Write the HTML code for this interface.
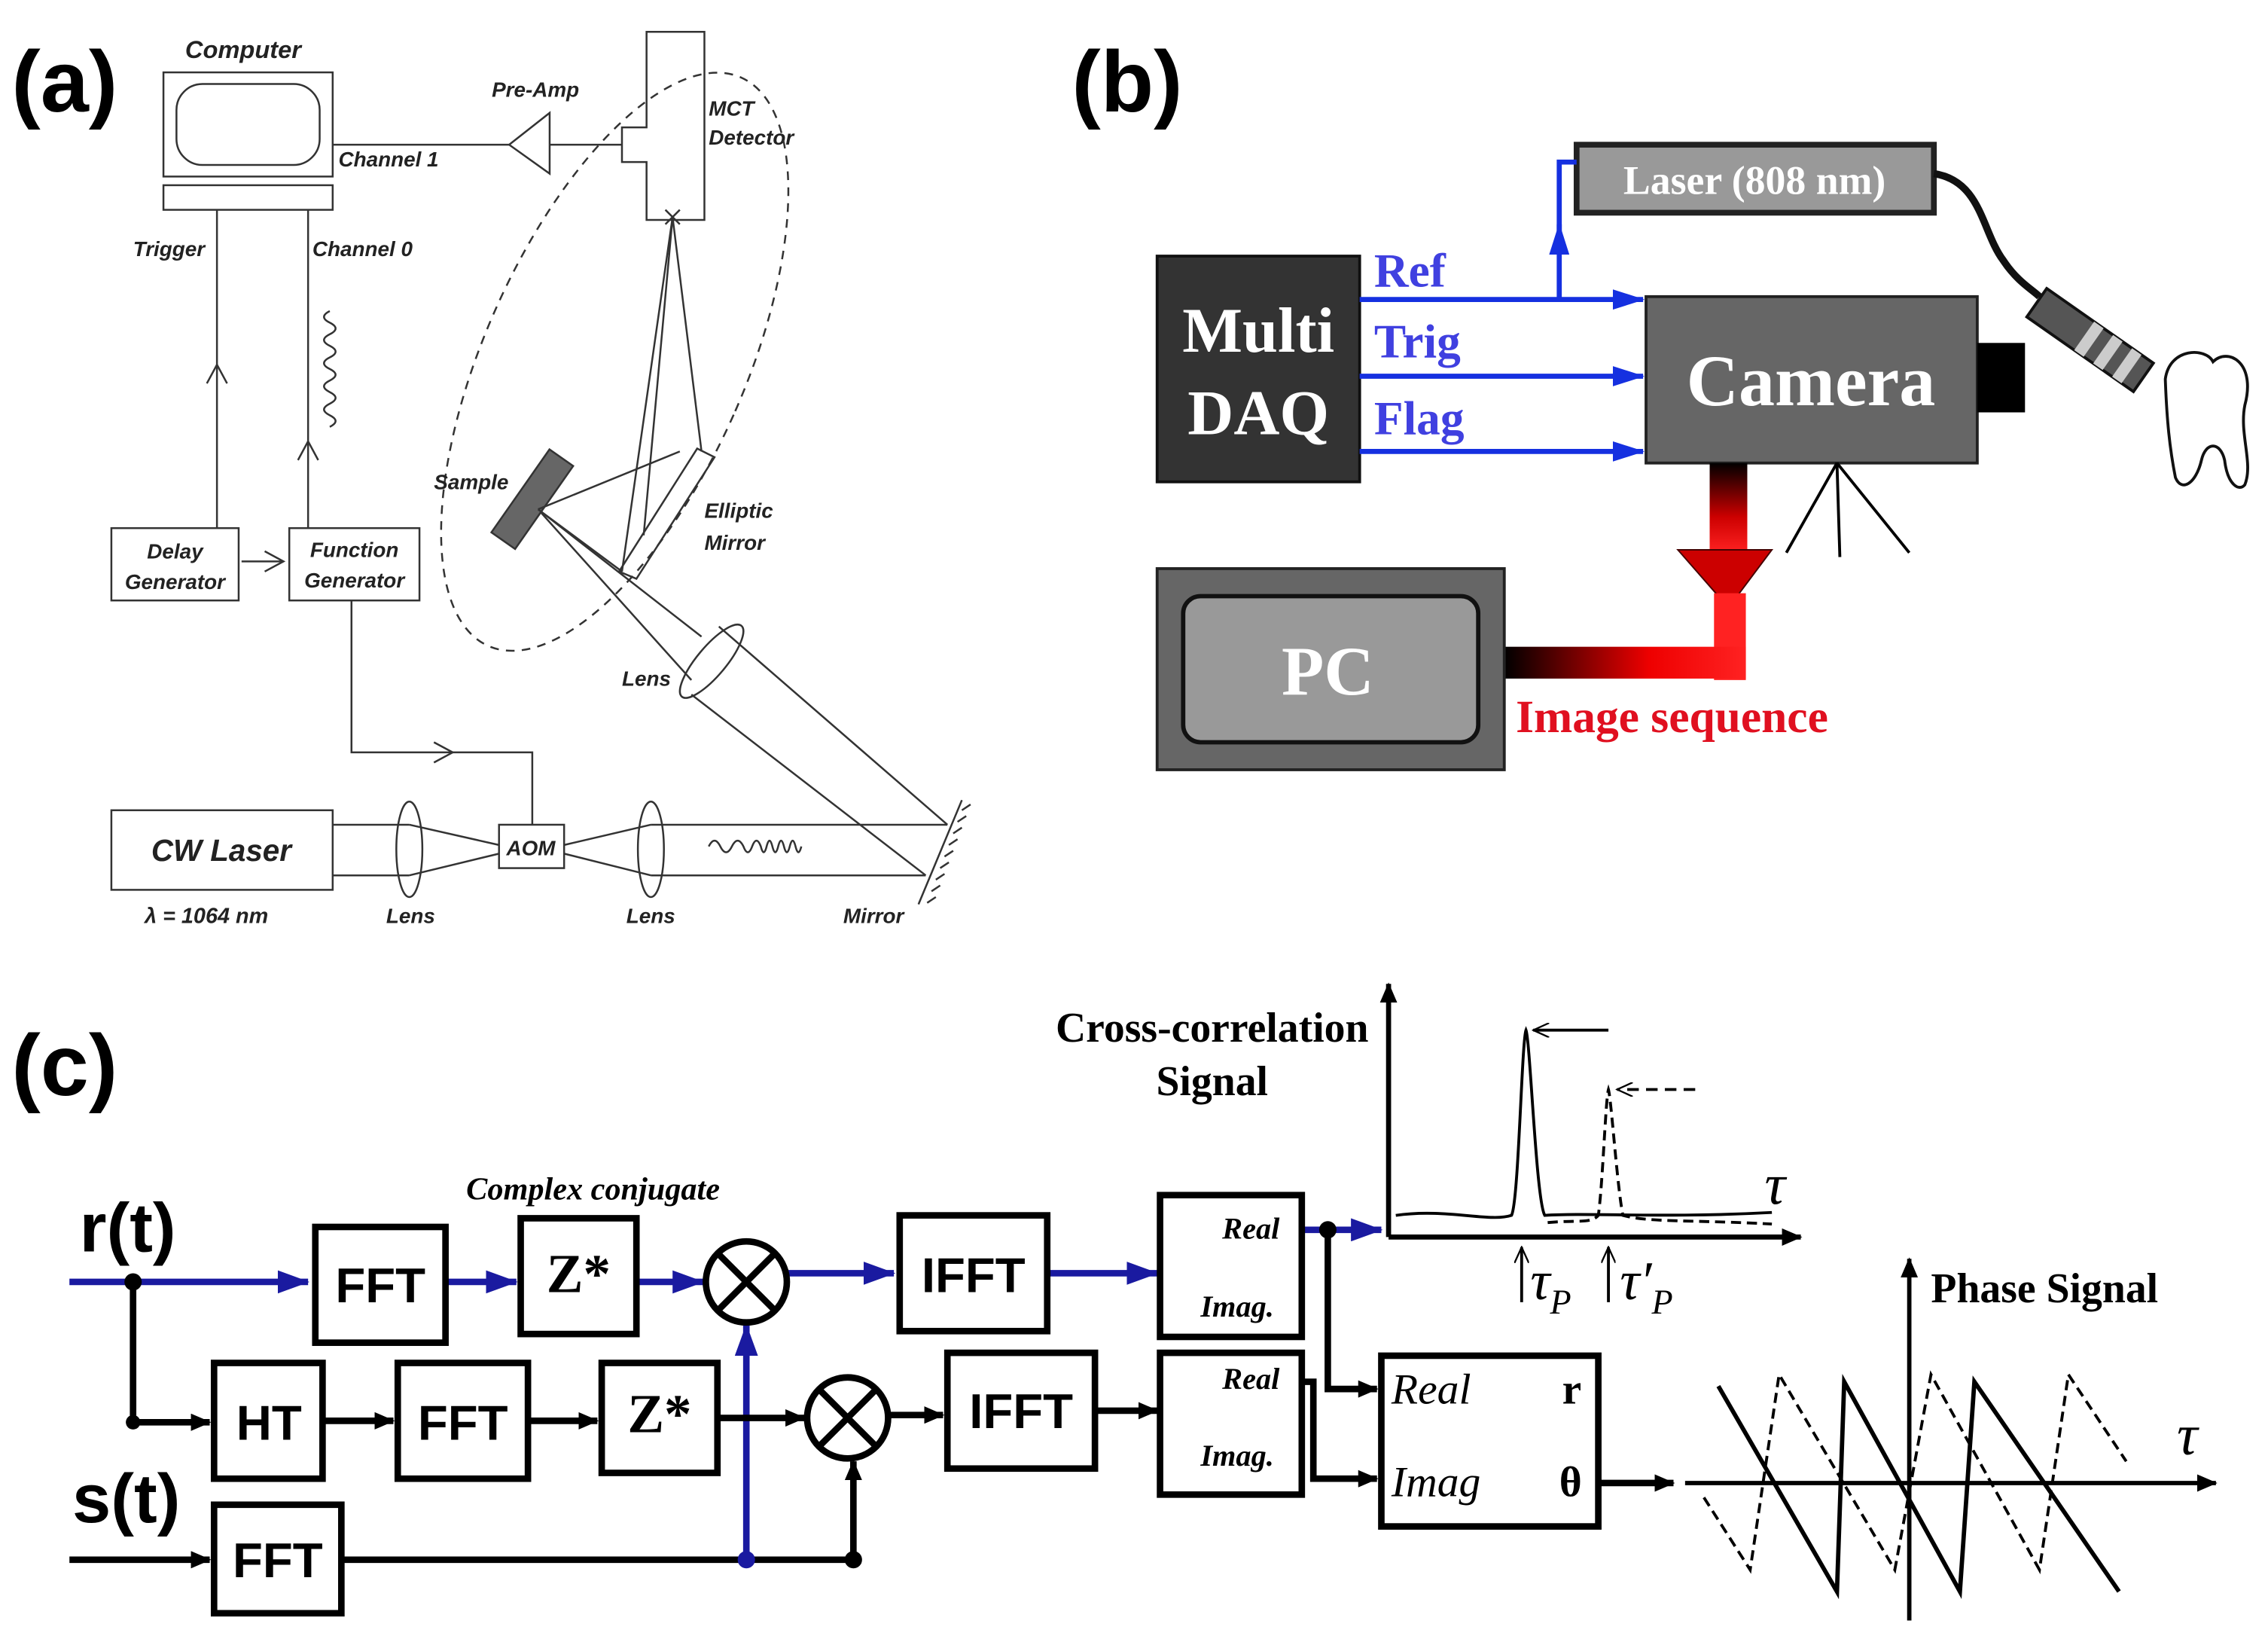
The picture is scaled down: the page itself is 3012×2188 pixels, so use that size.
<!DOCTYPE html>
<html><head><meta charset="utf-8">
<style>
html,body{margin:0;padding:0;background:#fff;}
svg{display:block;}
.s{font-family:"Liberation Sans",sans-serif;}
.r{font-family:"Liberation Serif",serif;}
</style></head>
<body>
<svg width="3012" height="2188" viewBox="0 0 1568 1139" xmlns="http://www.w3.org/2000/svg">
<defs>
<marker id="ak" markerWidth="14" markerHeight="12" refX="13" refY="6" orient="auto" markerUnits="userSpaceOnUse"><path d="M0,0 L14,6 L0,12 z" fill="#000"/></marker>
<marker id="abl" markerWidth="22" markerHeight="16" refX="21" refY="8" orient="auto" markerUnits="userSpaceOnUse"><path d="M0,0 L22,8 L0,16 z" fill="#1a1aa0"/></marker>
<marker id="bb" markerWidth="22" markerHeight="14" refX="21" refY="7" orient="auto" markerUnits="userSpaceOnUse"><path d="M0,0 L22,7 L0,14 z" fill="#1530e0"/></marker>
<marker id="op" markerWidth="12" markerHeight="10" refX="11" refY="5" orient="auto" markerUnits="userSpaceOnUse"><path d="M0,0 L11,5 L0,10" fill="none" stroke="#000" stroke-width="1.2"/></marker>
<linearGradient id="rg" x1="0" y1="0" x2="0" y2="1"><stop offset="0" stop-color="#000"/><stop offset="0.6" stop-color="#c00"/><stop offset="1" stop-color="#f22"/></linearGradient>
<linearGradient id="rh" x1="0" y1="0" x2="1" y2="0"><stop offset="0" stop-color="#000"/><stop offset="0.6" stop-color="#e00"/><stop offset="1" stop-color="#f22"/></linearGradient>
</defs>

<!-- ===== (a) ===== -->
<text x="8" y="77" class="s" font-size="60" font-weight="bold">(a)</text>
<g stroke="#333" fill="none" stroke-width="1.3" class="s">
<text x="128" y="40" font-size="17" font-weight="bold" font-style="italic" fill="#222" stroke="none">Computer</text>
<rect x="113" y="50" width="117" height="72" fill="#fff"/>
<rect x="122" y="58" width="99" height="56" rx="18"/>
<rect x="113" y="128" width="117" height="17"/>
<line x1="230" y1="100" x2="352" y2="100"/>
<text x="234" y="115" font-size="14.5" font-weight="bold" font-style="italic" fill="#222" stroke="none">Channel 1</text>
<path d="M352,100 L380,78 L380,120 Z"/>
<text x="340" y="67" font-size="14.5" font-weight="bold" font-style="italic" fill="#222" stroke="none">Pre-Amp</text>
<line x1="380" y1="100" x2="430" y2="100"/>
<path d="M447,22 H487 V152 H447 V112 H430 V88 H447 Z"/>
<text x="490" y="80" font-size="14.5" font-weight="bold" font-style="italic" fill="#222" stroke="none">MCT</text>
<text x="490" y="100" font-size="14.5" font-weight="bold" font-style="italic" fill="#222" stroke="none">Detector</text>
<ellipse cx="425" cy="250" rx="90" ry="215" transform="rotate(24 425 250)" stroke-dasharray="6,5"/>
<line x1="150" y1="145" x2="150" y2="365"/>
<path d="M143,265 L150,252 L157,265"/>
<line x1="213" y1="145" x2="213" y2="365"/>
<path d="M206,318 L213,305 L220,318"/>
<text x="92" y="177" font-size="14.5" font-weight="bold" font-style="italic" fill="#222" stroke="none">Trigger</text>
<text x="216" y="177" font-size="14.5" font-weight="bold" font-style="italic" fill="#222" stroke="none">Channel 0</text>
<path d="M228,215 q-8,4 0,8 q8,4 0,8 q-8,4 0,8 q8,4 0,8 q-8,4 0,8 q8,4 0,8 q-8,4 0,8 q8,4 0,8 q-8,4 0,8 q8,4 0,8"/>
<rect x="77" y="365" width="88" height="50"/>
<text x="121" y="386" font-size="14.5" font-weight="bold" font-style="italic" fill="#222" stroke="none" text-anchor="middle">Delay</text>
<text x="121" y="407" font-size="14.5" font-weight="bold" font-style="italic" fill="#222" stroke="none" text-anchor="middle">Generator</text>
<line x1="167" y1="388" x2="195" y2="388"/>
<path d="M183,381 L196,388 L183,395"/>
<rect x="200" y="365" width="90" height="50"/>
<text x="245" y="385" font-size="14.5" font-weight="bold" font-style="italic" fill="#222" stroke="none" text-anchor="middle">Function</text>
<text x="245" y="406" font-size="14.5" font-weight="bold" font-style="italic" fill="#222" stroke="none" text-anchor="middle">Generator</text>
<path d="M243,415 V520 H368 V570"/>
<path d="M300,513 L313,520 L300,527"/>
<rect x="77" y="560" width="153" height="55"/>
<text x="153" y="595" font-size="21" font-weight="bold" font-style="italic" fill="#222" stroke="none" text-anchor="middle">CW Laser</text>
<text x="100" y="638" font-size="15" font-weight="bold" font-style="italic" fill="#222" stroke="none">λ = 1064 nm</text>
<line x1="230" y1="570" x2="283" y2="570"/>
<line x1="230" y1="605" x2="283" y2="605"/>
<ellipse cx="283" cy="587" rx="9" ry="33"/>
<line x1="283" y1="570" x2="345" y2="584"/>
<line x1="283" y1="605" x2="345" y2="590"/>
<text x="267" y="638" font-size="14.5" font-weight="bold" font-style="italic" fill="#222" stroke="none">Lens</text>
<rect x="345" y="570" width="45" height="30"/>
<text x="367" y="591" font-size="14.5" font-weight="bold" font-style="italic" fill="#222" stroke="none" text-anchor="middle">AOM</text>
<line x1="390" y1="584" x2="450" y2="570"/>
<line x1="390" y1="590" x2="450" y2="605"/>
<ellipse cx="450" cy="587" rx="9" ry="33"/>
<text x="433" y="638" font-size="14.5" font-weight="bold" font-style="italic" fill="#222" stroke="none">Lens</text>
<line x1="450" y1="570" x2="655" y2="570"/>
<line x1="450" y1="605" x2="640" y2="605"/>
<path d="M490,585 q4,-8 8,0 q4,8 8,0 q4,-8 8,0 q3,8 6,0 q3,-8 6,0 q2,8 4,0 q2,-8 4,0 q2,8 4,0 q2,-8 4,0 q2,8 4,0 q2,-8 4,0 q2,8 4,0"/>
<line x1="665" y1="553" x2="635" y2="625"/>
<path d="M665,560 l6,-4 M662,568 l6,-4 M659,576 l6,-4 M656,584 l6,-4 M653,592 l6,-4 M650,600 l6,-4 M647,608 l6,-4 M644,616 l6,-4 M641,624 l6,-4"/>
<text x="583" y="638" font-size="14.5" font-weight="bold" font-style="italic" fill="#222" stroke="none">Mirror</text>
<line x1="655" y1="570" x2="497" y2="433"/>
<line x1="640" y1="605" x2="478" y2="480"/>
<ellipse cx="492" cy="457" rx="10" ry="32" transform="rotate(40 492 457)"/>
<text x="430" y="474" font-size="14.5" font-weight="bold" font-style="italic" fill="#222" stroke="none">Lens</text>
<line x1="485" y1="440" x2="372" y2="352"/>
<line x1="478" y1="470" x2="372" y2="352"/>
<rect x="358" y="310" width="20" height="70" fill="#666" transform="rotate(35 368 345)"/>
<text x="300" y="338" font-size="14.5" font-weight="bold" font-style="italic" fill="#222" stroke="none">Sample</text>
<path d="M428,395 L482,310 L494,316 L440,400 Z"/>
<line x1="372" y1="352" x2="470" y2="312"/>
<line x1="372" y1="352" x2="430" y2="395"/>
<line x1="430" y1="395" x2="465" y2="150"/>
<line x1="485" y1="312" x2="465" y2="150"/>
<line x1="445" y1="370" x2="465" y2="150"/>
<path d="M460,145 l10,10 M470,145 l-10,10"/>
<text x="487" y="358" font-size="14.5" font-weight="bold" font-style="italic" fill="#222" stroke="none">Elliptic</text>
<text x="487" y="380" font-size="14.5" font-weight="bold" font-style="italic" fill="#222" stroke="none">Mirror</text>
</g>

<!-- ===== (b) ===== -->
<text x="741" y="77" class="s" font-size="60" font-weight="bold">(b)</text>
<rect x="1090" y="100" width="247" height="47" fill="#999" stroke="#222" stroke-width="4"/>
<text x="1213" y="134" class="r" font-size="28" font-weight="bold" fill="#fff" text-anchor="middle">Laser (808 nm)</text>
<path d="M1337,120 C1370,125 1370,160 1385,180 C1395,195 1405,200 1410,205" fill="none" stroke="#111" stroke-width="5"/>
<g transform="rotate(35 1445 235)">
<rect x="1400" y="223" width="90" height="24" fill="#555" stroke="#111" stroke-width="2"/>
<rect x="1440" y="223" width="8" height="24" fill="#ccc"/>
<rect x="1456" y="223" width="8" height="24" fill="#ccc"/>
<rect x="1472" y="223" width="8" height="24" fill="#ccc"/>
</g>
<path d="M1497,262 C1500,240 1525,240 1530,250 C1540,240 1560,250 1552,280 C1548,300 1558,320 1552,335 C1548,340 1540,335 1538,318 C1535,305 1525,305 1522,318 C1518,335 1508,340 1504,330 C1500,310 1498,290 1497,262 Z" fill="#fff" stroke="#111" stroke-width="2"/>
<rect x="800" y="177" width="140" height="156" fill="#333" stroke="#111" stroke-width="2"/>
<text x="870" y="243" class="r" font-size="44" font-weight="bold" fill="#fff" text-anchor="middle">Multi</text>
<text x="870" y="300" class="r" font-size="44" font-weight="bold" fill="#fff" text-anchor="middle">DAQ</text>
<g stroke="#1530e0" stroke-width="3.5" fill="none">
<line x1="940" y1="207" x2="1136" y2="207" marker-end="url(#bb)"/>
<line x1="940" y1="260" x2="1136" y2="260" marker-end="url(#bb)"/>
<line x1="940" y1="312" x2="1136" y2="312" marker-end="url(#bb)"/>
<line x1="1078" y1="207" x2="1078" y2="155" marker-end="url(#bb)"/>
<path d="M1078,160 V112 H1090"/>
</g>
<text x="950" y="198" class="r" font-size="33" font-weight="bold" fill="#4040e0">Ref</text>
<text x="950" y="247" class="r" font-size="33" font-weight="bold" fill="#4040e0">Trig</text>
<text x="950" y="300" class="r" font-size="33" font-weight="bold" fill="#4040e0">Flag</text>
<rect x="1138" y="205" width="229" height="115" fill="#666" stroke="#222" stroke-width="2"/>
<text x="1252" y="280" class="r" font-size="50" font-weight="bold" fill="#fff" text-anchor="middle">Camera</text>
<rect x="1367" y="237" width="33" height="48" fill="#000"/>
<g stroke="#000" stroke-width="2"><line x1="1270" y1="320" x2="1235" y2="382"/><line x1="1270" y1="320" x2="1272" y2="385"/><line x1="1270" y1="320" x2="1320" y2="382"/></g>
<rect x="1182" y="320" width="26" height="62" fill="url(#rg)"/>
<path d="M1160,380 H1225 L1195,420 Z" fill="#c00" stroke="#400" stroke-width="1"/>
<rect x="1185" y="410" width="22" height="60" fill="#f22"/>
<rect x="1040" y="447" width="167" height="22" fill="url(#rh)"/>
<rect x="800" y="393" width="240" height="139" fill="#666" stroke="#222" stroke-width="2"/>
<rect x="818" y="412" width="204" height="101" rx="12" fill="#999" stroke="#111" stroke-width="3"/>
<text x="918" y="480" class="r" font-size="48" font-weight="bold" fill="#fff" text-anchor="middle">PC</text>
<text x="1048" y="506" class="r" font-size="32" font-weight="bold" fill="#e01020">Image sequence</text>

<!-- ===== (c) ===== -->
<text x="8" y="757" class="s" font-size="60" font-weight="bold">(c)</text>
<text x="55" y="865" class="s" font-size="48" font-weight="bold">r(t)</text>
<text x="50" y="1052" class="s" font-size="48" font-weight="bold">s(t)</text>
<g stroke="#1a1aa0" stroke-width="4.5" fill="none">
<line x1="48" y1="886" x2="213" y2="886" marker-end="url(#abl)"/>
<line x1="308" y1="886" x2="357" y2="886" marker-end="url(#abl)"/>
<line x1="440" y1="886" x2="486" y2="886" marker-end="url(#abl)"/>
<line x1="544" y1="880" x2="618" y2="880" marker-end="url(#abl)"/>
<line x1="724" y1="880" x2="800" y2="880" marker-end="url(#abl)"/>
<line x1="516" y1="1078" x2="516" y2="916" marker-end="url(#abl)"/>
<line x1="900" y1="850" x2="955" y2="850" marker-end="url(#abl)"/>
</g>
<g stroke="#000" stroke-width="4.5" fill="none">
<path d="M92,886 V983 H145" marker-end="url(#ak)"/>
<line x1="223" y1="982" x2="272" y2="982" marker-end="url(#ak)"/>
<line x1="365" y1="982" x2="413" y2="982" marker-end="url(#ak)"/>
<line x1="496" y1="980" x2="556" y2="980" marker-end="url(#ak)"/>
<line x1="614" y1="978" x2="652" y2="978" marker-end="url(#ak)"/>
<line x1="757" y1="975" x2="800" y2="975" marker-end="url(#ak)"/>
<line x1="48" y1="1078" x2="145" y2="1078" marker-end="url(#ak)"/>
<line x1="236" y1="1078" x2="590" y2="1078"/>
<line x1="590" y1="1078" x2="590" y2="1010" marker-end="url(#ak)"/>
<path d="M918,850 V960 H952" marker-end="url(#ak)"/>
<path d="M900,955 H908 V1022 H952" marker-end="url(#ak)"/>
<line x1="1105" y1="1025" x2="1157" y2="1025" marker-end="url(#ak)"/>
</g>
<g fill="#000"><circle cx="92" cy="886" r="6"/><circle cx="92" cy="983" r="5"/><circle cx="516" cy="1078" r="6" fill="#1a1aa0"/><circle cx="590" cy="1078" r="6"/><circle cx="918" cy="850" r="6"/></g>
<g fill="#fff" stroke="#000" stroke-width="4.5">
<rect x="218" y="848" width="90" height="80"/>
<rect x="360" y="842" width="80" height="80"/>
<rect x="622" y="840" width="102" height="80"/>
<rect x="802" y="826" width="98" height="98"/>
<rect x="148" y="942" width="75" height="80"/>
<rect x="275" y="942" width="90" height="80"/>
<rect x="416" y="942" width="80" height="76"/>
<rect x="655" y="935" width="102" height="80"/>
<rect x="802" y="935" width="98" height="98"/>
<rect x="148" y="1040" width="88" height="75"/>
<rect x="955" y="937" width="150" height="118"/>
<circle cx="516" cy="886" r="28"/>
<circle cx="586" cy="980" r="28"/>
</g>
<g stroke="#000" stroke-width="4.5"><path d="M496,866 L536,906 M536,866 L496,906 M566,960 L606,1000 M606,960 L566,1000"/></g>
<g class="s" font-size="34" font-weight="bold" text-anchor="middle">
<text x="263" y="900">FFT</text>
<text x="673" y="893">IFFT</text>
<text x="186" y="995">HT</text>
<text x="320" y="995">FFT</text>
<text x="706" y="987">IFFT</text>
<text x="192" y="1090">FFT</text>
</g>
<text x="400" y="893" class="r" font-size="38" font-weight="bold" text-anchor="middle">Z*</text>
<text x="456" y="990" class="r" font-size="38" font-weight="bold" text-anchor="middle">Z*</text>
<text x="410" y="829" class="r" font-size="22" font-weight="bold" font-style="italic" text-anchor="middle">Complex conjugate</text>
<g class="r" font-size="21" font-weight="bold" font-style="italic">
<text x="845" y="856">Real</text><text x="830" y="910">Imag.</text>
<text x="845" y="960">Real</text><text x="830" y="1013">Imag.</text>
</g>
<g class="r" font-size="30" font-style="italic"><text x="962" y="970">Real</text><text x="962" y="1034">Imag</text></g>
<g class="r" font-size="30" font-weight="bold"><text x="1080" y="970">r</text><text x="1078" y="1034">θ</text></g>
<text x="838" y="720" class="r" font-size="29" font-weight="bold" text-anchor="middle">Cross-correlation</text>
<text x="838" y="757" class="r" font-size="29" font-weight="bold" text-anchor="middle">Signal</text>
<g stroke="#000" stroke-width="3.5" fill="none">
<line x1="960" y1="855" x2="960" y2="680" marker-end="url(#ak)"/>
<line x1="960" y1="855" x2="1245" y2="855" marker-end="url(#ak)"/>
</g>
<g stroke="#000" stroke-width="2" fill="none">
<path d="M965,840 C1000,835 1030,845 1045,840 C1050,830 1052,720 1055,712 C1058,720 1062,830 1068,840 C1100,838 1150,842 1225,838"/>
<path d="M1070,845 C1090,843 1100,846 1105,840 C1108,820 1110,760 1112,753 C1114,760 1118,820 1122,840 C1140,845 1170,843 1225,846" stroke-dasharray="7,4"/>
<line x1="1112" y1="712" x2="1060" y2="712" marker-end="url(#op)"/>
<line x1="1172" y1="753" x2="1118" y2="753" stroke-dasharray="8,5" marker-end="url(#op)"/>
<line x1="1052" y1="900" x2="1052" y2="862" marker-end="url(#op)"/>
<line x1="1112" y1="900" x2="1112" y2="862" marker-end="url(#op)"/>
</g>
<text x="1220" y="832" class="r" font-size="40" font-style="italic">τ</text>
<text x="1058" y="898" class="r" font-size="38" font-style="italic">τ<tspan font-size="24" dy="10">P</tspan></text>
<text x="1120" y="898" class="r" font-size="38" font-style="italic">τ′<tspan font-size="24" dy="10">P</tspan></text>
<text x="1335" y="900" class="r" font-size="29" font-weight="bold">Phase Signal</text>
<g stroke="#000" stroke-width="3" fill="none">
<line x1="1320" y1="1120" x2="1320" y2="870" marker-end="url(#ak)"/>
<line x1="1165" y1="1025" x2="1532" y2="1025" marker-end="url(#ak)"/>
<path d="M1188,958 L1270,1100 L1275,955 L1355,1100 L1365,955 L1465,1100"/>
<path d="M1178,1035 L1210,1085 L1230,950 L1310,1085 L1335,950 L1410,1085 L1430,950 L1470,1010" stroke-dasharray="7,4" stroke-width="2"/>
</g>
<text x="1505" y="1005" class="r" font-size="40" font-style="italic">τ</text>
</svg>
</body></html>
